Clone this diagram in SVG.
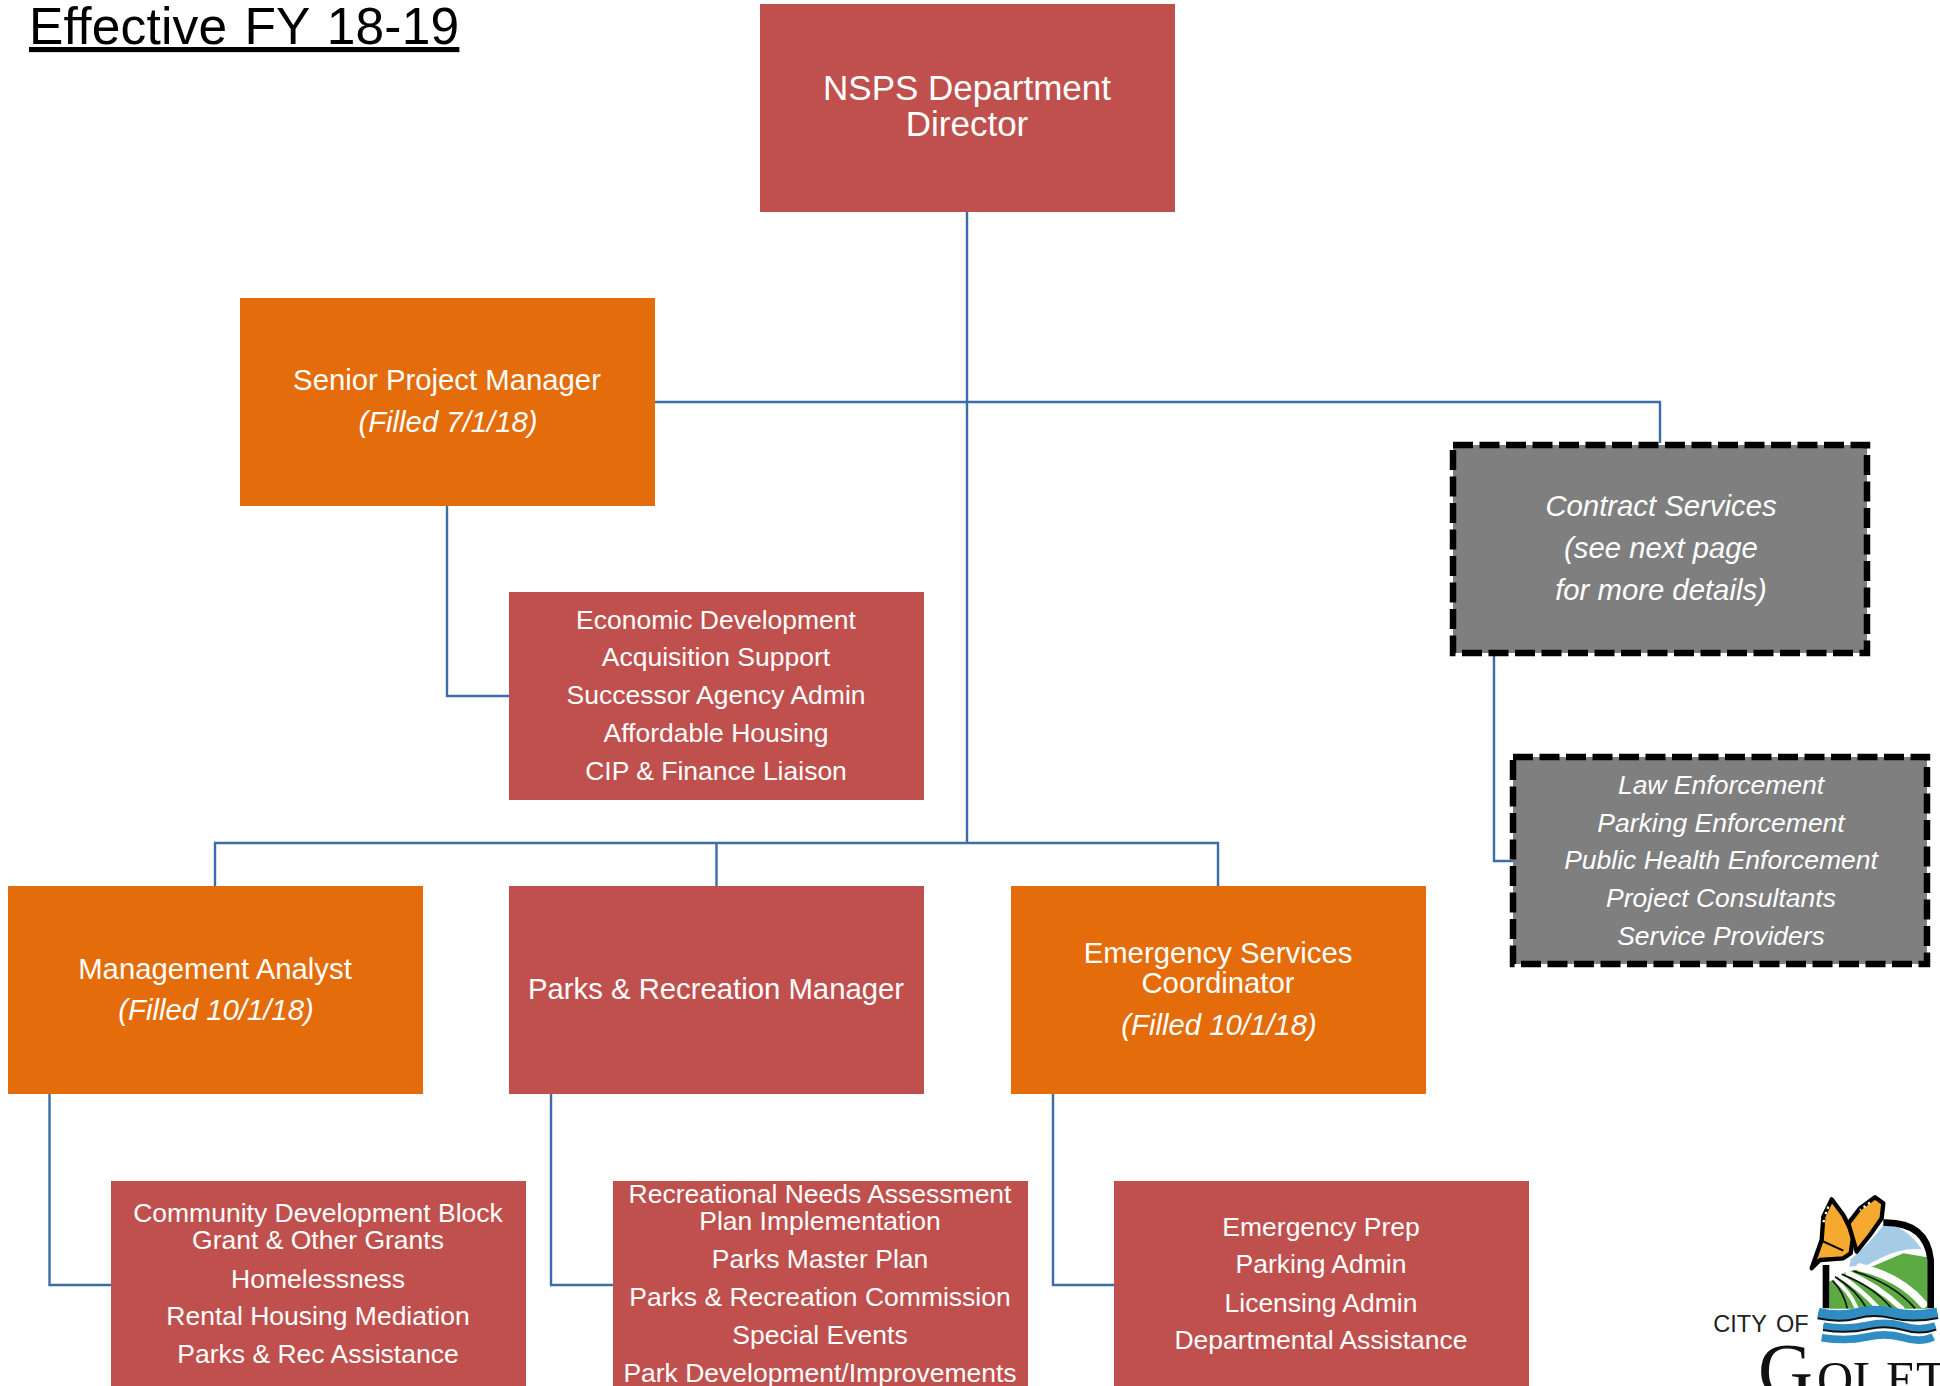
<svg xmlns="http://www.w3.org/2000/svg" width="1940" height="1386" viewBox="0 0 1940 1386">
<style>
text{font-family:"Liberation Sans",Arial,sans-serif;fill:#fff;text-anchor:middle}
.r{fill:#c0504d}.o{fill:#e46c0a}.g{fill:#7f7f7f;stroke:#000;stroke-width:6.500;stroke-dasharray:20 6.500}
.c{fill:none;stroke:#3d6ca8;stroke-width:2.400}
.a{font-size:35px}.b{font-size:29.300px}.s{font-size:26.500px}.i{font-style:italic}
</style>
<rect width="1940" height="1386" fill="#fff"/>
<text id="title" x="29" y="44" style="font-size:51.500px;word-spacing:2.500px;letter-spacing:.2px;fill:#000;text-anchor:start;text-decoration:underline">Effective FY 18-19</text>
<g id="connectors">
<path class="c" d="M967 212V843"/>
<path class="c" d="M655 402H1660V443"/>
<path class="c" d="M215 886V843H1218V886M716.500 843V886"/>
<path class="c" d="M447 505V696H509"/>
<path class="c" d="M1494 638V861H1514"/>
<path class="c" d="M49.500 1093V1285H111"/>
<path class="c" d="M551 1093V1285H613"/>
<path class="c" d="M1053 1093V1285H1114"/>
</g>
<g id="director"><rect class="r" x="760" y="4" width="415" height="208"/><text class="a" x="967" y="100">NSPS Department</text><text class="a" x="967" y="136">Director</text></g>
<g id="senior"><rect class="o" x="240" y="298" width="415" height="208"/><text class="b" x="447" y="390">Senior Project Manager</text><text class="b i" x="448" y="432">(Filled 7/1/18)</text></g>
<g id="econ"><rect class="r" x="509" y="592" width="415" height="208"/>
<text class="s" x="716" y="629">Economic Development</text><text class="s" x="716" y="666">Acquisition Support</text><text class="s" x="716" y="704">Successor Agency Admin</text><text class="s" x="716" y="742">Affordable Housing</text><text class="s" x="716" y="780">CIP &amp; Finance Liaison</text></g>
<g id="contract"><rect class="g" x="1453" y="445" width="414" height="208"/>
<text class="b i" x="1661" y="516">Contract Services</text><text class="b i" x="1661" y="558">(see next page</text><text class="b i" x="1661" y="600">for more details)</text></g>
<g id="enforcement"><rect class="g" x="1513" y="757" width="414" height="207"/>
<text class="s i" x="1721" y="794">Law Enforcement</text><text class="s i" x="1721" y="832">Parking Enforcement</text><text class="s i" x="1721" y="869">Public Health Enforcement</text><text class="s i" x="1721" y="907">Project Consultants</text><text class="s i" x="1721" y="945">Service Providers</text></g>
<g id="analyst"><rect class="o" x="8" y="886" width="415" height="208"/><text class="b" x="215" y="979">Management Analyst</text><text class="b i" x="216" y="1020">(Filled 10/1/18)</text></g>
<g id="parks"><rect class="r" x="509" y="886" width="415" height="208"/><text class="b" x="716" y="999">Parks &amp; Recreation Manager</text></g>
<g id="emergency"><rect class="o" x="1011" y="886" width="415" height="208"/><text class="b" x="1218" y="963">Emergency Services</text><text class="b" x="1218" y="993">Coordinator</text><text class="b i" x="1219" y="1035">(Filled 10/1/18)</text></g>
<g id="grants"><rect class="r" x="111" y="1181" width="415" height="205"/>
<text class="s" x="318" y="1222">Community Development Block</text><text class="s" x="318" y="1249">Grant &amp; Other Grants</text><text class="s" x="318" y="1288">Homelessness</text><text class="s" x="318" y="1325">Rental Housing Mediation</text><text class="s" x="318" y="1363">Parks &amp; Rec Assistance</text></g>
<g id="recreation"><rect class="r" x="613" y="1181" width="415" height="205"/>
<text class="s" x="820" y="1203">Recreational Needs Assessment</text><text class="s" x="820" y="1230">Plan Implementation</text><text class="s" x="820" y="1268">Parks Master Plan</text><text class="s" x="820" y="1306">Parks &amp; Recreation Commission</text><text class="s" x="820" y="1344">Special Events</text><text class="s" x="820" y="1382">Park Development/Improvements</text></g>
<g id="prep"><rect class="r" x="1114" y="1181" width="415" height="205"/>
<text class="s" x="1321" y="1236">Emergency Prep</text><text class="s" x="1321" y="1273">Parking Admin</text><text class="s" x="1321" y="1312">Licensing Admin</text><text class="s" x="1321" y="1349">Departmental Assistance</text></g>
<g id="logo">
<g transform="translate(1640 1160) scale(.33333)">
<path d="M735 190Q800 200 845 268Q790 262 730 290L680 316 628 320 632 298Q690 250 735 190Z" fill="#a6cbe6"/>
<path d="M568 365L620 335 700 318 790 280 862 292V446H568Z" fill="#5bab42"/>
<g fill="none" stroke="#fff" stroke-linecap="round">
<path d="M660 322Q780 350 850 432" stroke-width="24"/>
<path d="M625 340Q710 375 785 445" stroke-width="16"/>
<path d="M600 348Q660 385 715 445" stroke-width="14"/>
<path d="M585 360Q630 395 650 445" stroke-width="12"/>
</g>
<path d="M640 333Q760 370 825 445M605 343Q700 380 755 445M585 350Q650 390 680 445M578 362Q610 395 622 445" fill="none" stroke="#111" stroke-width="5"/>
<path d="M558 315V445M730 188Q860 185 872 300V445" fill="none" stroke="#000" stroke-width="20"/>
<g fill="none" stroke-linecap="butt">
<path d="M535 458Q600 472 650 458T760 458T892 457" stroke="#111" stroke-width="30" transform="translate(0 5)"/>
<path d="M535 458Q600 472 650 458T760 458T892 457" stroke="#2f8dc4" stroke-width="28"/>
<path d="M550 497Q620 509 680 495T790 497T886 496" stroke="#111" stroke-width="22" transform="translate(0 5)"/>
<path d="M550 497Q620 509 680 495T790 497T886 496" stroke="#2f8dc4" stroke-width="20"/>
<path d="M545 533Q620 545 680 531T790 533T880 531" stroke="#2f8dc4" stroke-width="23"/>
</g>
<path d="M515 325L545 240 550 170 575 118 610 165 640 225 632 280 610 295 540 300Z" fill="#f5a92e" stroke="#000" stroke-width="13" stroke-linejoin="round"/>
<path d="M650 275L625 190 660 145 705 112 730 130 725 175 690 225Z" fill="#f5a92e" stroke="#000" stroke-width="13" stroke-linejoin="round"/>
<path d="M540 240L610 272" stroke="#000" stroke-width="6"/>
<path d="M565 140L556 165M552 180L550 190M690 128L660 150" stroke="#fff" stroke-width="7" stroke-dasharray="7 10" fill="none"/>
</g>
<text x="1761" y="1332" style="font-size:23.500px;word-spacing:3px;fill:#222">CITY OF</text>
<text x="1758" y="1396" style="font-family:'Liberation Serif',serif;font-size:76px;fill:#111;text-anchor:start">G</text>
<text y="1396" style="font-family:'Liberation Serif',serif;font-size:50px;fill:#111;text-anchor:start"><tspan x="1817">O</tspan><tspan x="1853">L</tspan><tspan x="1886">E</tspan><tspan x="1916">T</tspan></text>
</g>
</svg>
